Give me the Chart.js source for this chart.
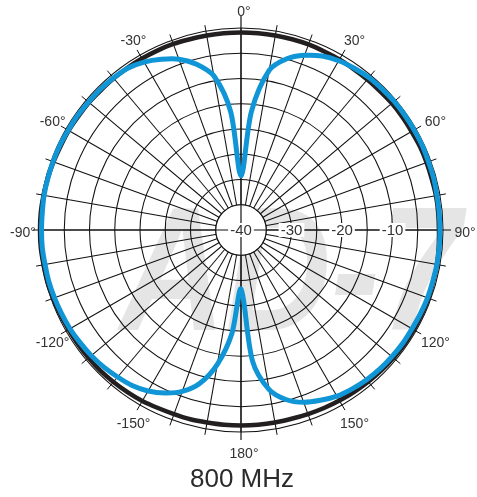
<!DOCTYPE html>
<html>
<head>
<meta charset="utf-8">
<script src="https://cdn.jsdelivr.net/npm/chart.js@4.4.1/dist/chart.umd.min.js"></script>
<style>
  html, body { margin: 0; padding: 0; background: #ffffff; }
  canvas { display: block; }
</style>
</head>
<body>
<canvas id="polar" width="477" height="497"></canvas>
<script>
// Measurement angles, clockwise from 0° (on-axis), every 5°
const angles = [
  0, 5, 10, 15, 20, 25, 30, 35, 40, 45, 50, 55,
  60, 65, 70, 75, 80, 85, 90, 95, 100, 105, 110, 115,
  120, 125, 130, 135, 140, 145, 150, 155, 160, 165, 170, 175,
  180, 185, 190, 195, 200, 205, 210, 215, 220, 225, 230, 235,
  240, 245, 250, 255, 260, 265, 270, 275, 280, 285, 290, 295,
  300, 305, 310, 315, 320, 325, 330, 335, 340, 345, 350, 355
];

// Relative level in dB at 800 MHz (blue trace)
const response800 = [
  -29.3, -16.5, -7.9, -4.9, -3.2, -2.0, -1.3, -0.9, -0.6, -0.5, -0.4, -0.4,
  -0.4, -0.4, -0.5, -0.5, -0.6, -0.6, -0.6, -0.6, -0.6, -0.7, -0.7, -0.8,
  -0.9, -0.9, -1.0, -1.1, -1.3, -1.6, -2.0, -2.8, -3.7, -5.2, -7.9, -14.0,
  -28.3, -19.5, -13.0, -8.6, -6.0, -4.4, -3.2, -2.4, -2.0, -1.6, -1.3, -1.1,
  -0.9, -0.8, -0.7, -0.6, -0.6, -0.5, -0.5, -0.5, -0.4, -0.4, -0.4, -0.4,
  -0.5, -0.5, -0.6, -0.6, -0.7, -0.9, -1.6, -2.7, -4.0, -6.0, -9.0, -16.5
];

// Reference trace (black), nearly omnidirectional
const referenceTrace = [
  -0.9, -0.9, -0.9, -0.9, -0.9, -1.0, -1.0, -1.1, -1.1, -1.1, -1.0, -1.0,
  -1.0, -0.9, -0.9, -0.9, -0.8, -0.8, -0.8, -0.7, -0.6, -0.6, -0.5, -0.5,
  -0.5, -0.5, -0.6, -0.7, -0.8, -0.9, -1.0, -1.1, -1.2, -1.3, -1.3, -1.3,
  -1.3, -1.3, -1.3, -1.2, -1.2, -1.1, -0.9, -0.8, -0.7, -0.6, -0.6, -0.6,
  -0.6, -0.5, -0.4, -0.3, -0.3, -0.2, -0.2, -0.2, -0.3, -0.4, -0.5, -0.6,
  -0.6, -0.7, -0.7, -0.8, -0.8, -0.8, -0.8, -0.8, -0.8, -0.9, -0.9, -0.9
];

// Level rings and their printed labels
const dbMin = -40;
const dbMax = 0;
const dbStep = 5;
const dbTickLabels = [-40, -30, -20, -10];

// Printed angle labels
const degreeLabels = [0, 30, 60, 90, 120, 150, 180, -150, -120, -90, -60, -30];

const chartTitle = '800 MHz';
const watermarkText = 'AD-7';

const LINE = '#111111';
const TEXT = '#333333';
const FONT = '"Liberation Sans", Arial, Helvetica, sans-serif';

const rad = (deg) => deg * Math.PI / 180;

const polarDecor = {
  id: 'polarDecor',
  beforeDraw(chart) {
    const ctx = chart.ctx;
    const s = chart.scales.r;
    ctx.save();
    ctx.fillStyle = '#e5e5e5';
    ctx.font = 'italic bold 176px ' + FONT;
    ctx.textBaseline = 'alphabetic';
    ctx.translate(s.xCenter - 121, s.yCenter + 100);
    ctx.scale(0.83, 1);
    ctx.fillText(watermarkText, 0, 0);
    ctx.restore();
  },
  beforeDatasetsDraw(chart) {
    const ctx = chart.ctx;
    const s = chart.scales.r;
    const cx = s.xCenter, cy = s.yCenter, R = s.drawingArea;
    const pt = (deg, r) => [cx + r * Math.sin(rad(deg)), cy - r * Math.cos(rad(deg))];
    const rHub = s.getDistanceFromCenterForValue(-35);

    ctx.save();
    // clear hub so the spokes start at the innermost ring
    ctx.fillStyle = '#ffffff';
    ctx.beginPath();
    ctx.arc(cx, cy, rHub, 0, Math.PI * 2);
    ctx.fill();
    ctx.strokeStyle = LINE;
    ctx.lineWidth = 1.1;
    ctx.beginPath();
    ctx.arc(cx, cy, rHub, 0, Math.PI * 2);
    ctx.stroke();

    // main axes through the centre, running past the outer ring
    const axisExt = { 0: 12, 90: 8, 180: 8, 270: 6 };
    ctx.lineWidth = 1.2;
    [[0, 180], [90, 270]].forEach(([a, b]) => {
      const p = pt(a, R + axisExt[a]);
      const q = pt(b, R + axisExt[b]);
      ctx.beginPath();
      ctx.moveTo(p[0], p[1]);
      ctx.lineTo(q[0], q[1]);
      ctx.stroke();
    });

    // short ticks outside the outer ring every 10°
    ctx.lineWidth = 1;
    for (let a = 0; a < 360; a += 10) {
      if (a % 90 === 0) continue;
      const p = pt(a, R);
      const q = pt(a, R + 6);
      ctx.beginPath();
      ctx.moveTo(p[0], p[1]);
      ctx.lineTo(q[0], q[1]);
      ctx.stroke();
    }

    // level labels along the 90° axis, with white backing
    ctx.font = '15px ' + FONT;
    ctx.textAlign = 'center';
    ctx.textBaseline = 'middle';
    dbTickLabels.forEach((v) => {
      const r = s.getDistanceFromCenterForValue(v);
      const [x, y] = pt(90, r);
      const txt = String(v);
      const w = ctx.measureText(txt).width;
      ctx.fillStyle = '#ffffff';
      ctx.fillRect(x - w / 2 - 2, y - 7, w + 4, 14);
      ctx.fillStyle = TEXT;
      ctx.fillText(txt, x, y + 0.5);
    });

    // angle labels around the rim
    ctx.font = '14px ' + FONT;
    degreeLabels.forEach((d) => {
      const [x, y] = pt(d, R + 19);
      ctx.fillStyle = TEXT;
      ctx.fillText(d + '°', x + 3, y + 3);
    });
    ctx.restore();
  },
  afterDraw(chart) {
    const ctx = chart.ctx;
    const s = chart.scales.r;
    ctx.save();
    ctx.fillStyle = '#2b2b2b';
    ctx.font = '26px ' + FONT;
    ctx.textAlign = 'center';
    ctx.textBaseline = 'alphabetic';
    ctx.fillText(chartTitle, s.xCenter + 1, 487);
    ctx.restore();
  }
};

new Chart(document.getElementById('polar'), {
  type: 'radar',
  data: {
    labels: angles.map((a) => a + '°'),
    datasets: [
      {
        label: chartTitle,
        data: response800,
        borderColor: '#1096d6',
        borderWidth: 5,
        pointRadius: 0,
        fill: false,
        tension: 0.3,
        borderJoinStyle: 'round',
        borderCapStyle: 'round',
        order: 0
      },
      {
        label: 'Reference',
        data: referenceTrace,
        borderColor: '#231f20',
        borderWidth: 4.5,
        pointRadius: 0,
        fill: false,
        tension: 0.3,
        order: 1
      }
    ]
  },
  options: {
    responsive: false,
    devicePixelRatio: 1,
    animation: false,
    layout: { padding: { left: 39, right: 34, top: 28, bottom: 65 } },
    plugins: {
      legend: { display: false },
      tooltip: { enabled: false },
      title: { display: false }
    },
    scales: {
      r: {
        min: dbMin,
        max: dbMax,
        startAngle: 0,
        ticks: { display: false, stepSize: dbStep },
        pointLabels: { display: false },
        grid: {
          circular: true,
          color: LINE,
          lineWidth: (c) => (c.index === 0 ? 0 : 1.05)
        },
        angleLines: {
          display: true,
          color: LINE,
          lineWidth: (c) => (c.index % 2 === 0 ? 1.05 : 0)
        }
      }
    }
  },
  plugins: [polarDecor]
});
</script>
</body>
</html>
